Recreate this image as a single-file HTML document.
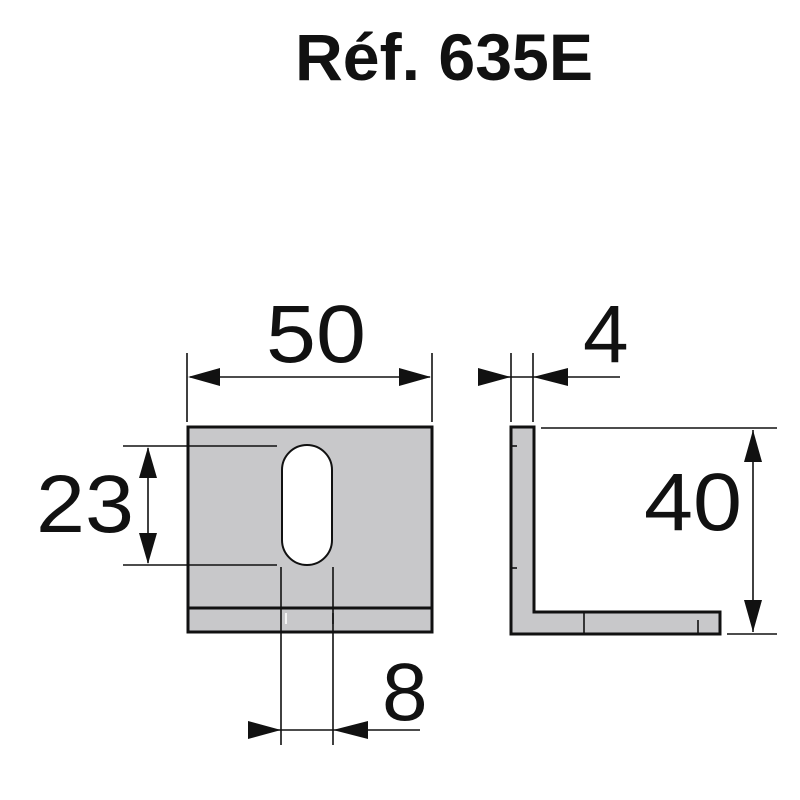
<!DOCTYPE html>
<html><head><meta charset="utf-8"><style>html,body{margin:0;padding:0;background:#fff}svg{display:block}</style></head>
<body>
<svg width="800" height="800" viewBox="0 0 800 800" xmlns="http://www.w3.org/2000/svg" font-family="Liberation Sans, sans-serif">
<text x="295" y="80" font-size="66" font-weight="bold" fill="#111" textLength="298" lengthAdjust="spacingAndGlyphs">Réf. 635E</text>
<g stroke="#111" stroke-width="1.6" fill="none">
<rect x="188" y="427" width="244" height="205" fill="#c8c8ca" stroke-width="3"/>
<line x1="188" y1="608" x2="432" y2="608" stroke-width="3"/>
<rect x="282" y="445" width="50" height="120" rx="25" ry="25" fill="#fff" stroke-width="2"/>
<line x1="286" y1="613" x2="286" y2="624" stroke="#fff"/>
<line x1="333" y1="613" x2="333" y2="624"/>
<line x1="187" y1="353" x2="187" y2="422"/>
<line x1="432" y1="353" x2="432" y2="422"/>
<line x1="190" y1="377" x2="430" y2="377"/>
<line x1="123" y1="446" x2="277" y2="446"/>
<line x1="123" y1="565" x2="277" y2="565"/>
<line x1="148" y1="448" x2="148" y2="563"/>
<line x1="281" y1="567" x2="281" y2="745"/>
<line x1="333" y1="567" x2="333" y2="745"/>
<line x1="250" y1="730" x2="420" y2="730"/>
<path d="M511 427 H534 V612 H720 V634 H511 Z" fill="#c8c8ca" stroke-width="3"/>
<line x1="511" y1="446" x2="517" y2="446"/>
<line x1="511" y1="568" x2="517" y2="568"/>
<line x1="584" y1="613" x2="584" y2="633"/>
<line x1="698" y1="620" x2="698" y2="633"/>
<line x1="511" y1="353" x2="511" y2="422"/>
<line x1="533" y1="353" x2="533" y2="422"/>
<line x1="480" y1="377" x2="620" y2="377"/>
<line x1="541" y1="428" x2="777" y2="428"/>
<line x1="727" y1="634" x2="777" y2="634"/>
<line x1="753" y1="430" x2="753" y2="632"/>
</g>
<g fill="#111">
<polygon points="188,377 220,368 220,386"/>
<polygon points="431,377 399,368 399,386"/>
<polygon points="148,447 139,478 157,478"/>
<polygon points="148,564 139,533 157,533"/>
<polygon points="281,730 248,721 248,739"/>
<polygon points="333,730 368,721 368,739"/>
<polygon points="511,377 478,368 478,386"/>
<polygon points="533,377 568,368 568,386"/>
<polygon points="753,430 744,462 762,462"/>
<polygon points="753,632 744,600 762,600"/>
</g>
<g font-size="82" fill="#111">
<text x="266" y="362" textLength="100" lengthAdjust="spacingAndGlyphs">50</text>
<text x="583" y="362">4</text>
<text x="36" y="532" textLength="98" lengthAdjust="spacingAndGlyphs">23</text>
<text x="644" y="530" textLength="98" lengthAdjust="spacingAndGlyphs">40</text>
<text x="382" y="720">8</text>
</g>
</svg>
</body></html>
